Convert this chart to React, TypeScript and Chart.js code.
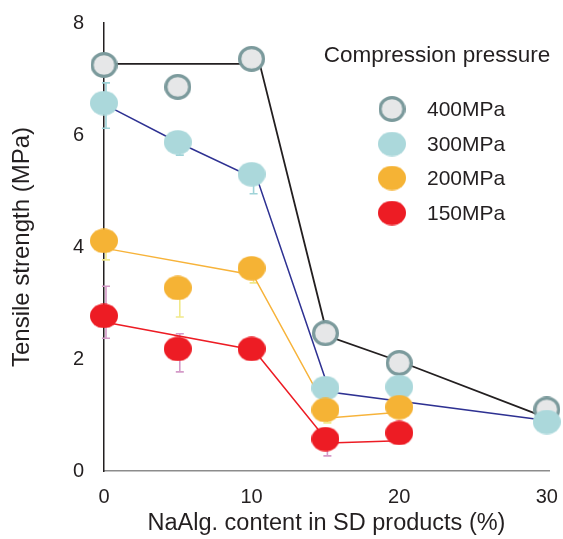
import React, { useEffect, useRef } from "react";
import { Chart, registerables } from "chart.js";

Chart.register(...registerables);

// ---------- data ----------
const xCategories = [0, 5, 10, 15, 20, 30];
const xTickValues = [0, 10, 20, 30];
const yTickValues = [0, 2, 4, 6, 8];
const seriesNames = ["400MPa", "300MPa", "200MPa", "150MPa"];

// measured points (null = not measured)
const p400 = [7.25, 6.86, 7.36, 2.46, 1.93, 1.1];
const p300 = [6.57, 5.87, 5.3, 1.48, 1.5, 0.875];
const p200 = [4.11, 3.27, 3.62, 1.09, 1.14, null];
const p150 = [2.77, 2.18, 2.18, 0.57, 0.68, null];

// trend lines
const line400X = [0, 10.55, 15.15, 20, 30];
const line400Y = [7.27, 7.27, 2.41, 1.96, 0.95];
const line300X = [0, 5, 10.4, 15.3, 30];
const line300Y = [6.55, 5.87, 5.2, 1.41, 0.9];
const line200X = [0, 10.1, 15.4, 20];
const line200Y = [3.98, 3.5, 0.95, 1.05];
const line150X = [0, 10.15, 15.25, 20];
const line150Y = [2.66, 2.16, 0.5, 0.54];

// error bar ends (null = not shown)
const err300Lo = [6.12, 5.64, 4.95, null, null, null];
const err300Hi = [6.93, null, null, null, null, null];
const err200Lo = [3.77, 2.75, 3.36, 0.86, null, null];
const err150Lo = [2.37, 1.77, null, 0.27, null, null];
const err150Hi = [3.3, 2.45, null, null, null, null];

const FONT = "'Liberation Sans', Arial, Helvetica, sans-serif";
const TEXT = "#231f20";

function ellipse(rx: number, ry: number, fill: string, stroke?: string, lw = 0) {
  const c = document.createElement("canvas");
  c.width = Math.ceil(rx * 2);
  c.height = Math.ceil(ry * 2);
  const ctx = c.getContext("2d")!;
  ctx.beginPath();
  ctx.ellipse(c.width / 2, c.height / 2, rx - lw / 2, ry - lw / 2, 0, 0, Math.PI * 2);
  ctx.fillStyle = fill;
  ctx.fill();
  if (stroke && lw > 0) {
    ctx.lineWidth = lw;
    ctx.strokeStyle = stroke;
    ctx.stroke();
  }
  return c;
}

function pts(xs: number[], ys: (number | null)[]) {
  const out: { x: number; y: number }[] = [];
  xs.forEach((x, i) => {
    const y = ys[i];
    if (y !== null && y !== undefined) out.push({ x, y });
  });
  return out;
}

export default function App() {
  const ref = useRef<HTMLCanvasElement>(null);

  useEffect(() => {
    const canvas = ref.current!;
    const img400 = ellipse(13.5, 13, "#e6e7e8", "#7b9a9c", 3.2);
    const img300 = ellipse(14, 12.2, "#abd8db");
    const img200 = ellipse(14, 12.2, "#f5b335");
    const img150 = ellipse(14, 12.2, "#ed1c24");
    const legendImgs = [img400, img300, img200, img150];

    const errorSpecs = [
      { vals: p300, lo: err300Lo, hi: err300Hi, color: "#9fd3d8" },
      { vals: p200, lo: err200Lo, hi: null, color: "#f1e98a" },
      { vals: p150, lo: err150Lo, hi: err150Hi, color: "#d49ac8" },
    ];

    const errorBarPlugin = {
      id: "errorBars",
      beforeDatasetsDraw(chart: any) {
        const { ctx, scales } = chart;
        const xs = scales.x;
        const ys = scales.y;
        ctx.save();
        ctx.lineWidth = 1.6;
        errorSpecs.forEach((spec) => {
          ctx.strokeStyle = spec.color;
          xCategories.forEach((xv, i) => {
            const v = spec.vals[i];
            if (v === null) return;
            const px = xs.getPixelForValue(xv) + 2;
            const py = ys.getPixelForValue(v);
            [spec.lo ? spec.lo[i] : null, spec.hi ? spec.hi[i] : null].forEach((end) => {
              if (end === null || end === undefined) return;
              const pe = ys.getPixelForValue(end);
              ctx.beginPath();
              ctx.moveTo(px, py);
              ctx.lineTo(px, pe);
              ctx.moveTo(px - 4, pe);
              ctx.lineTo(px + 4, pe);
              ctx.stroke();
            });
          });
        });
        ctx.restore();
      },
    };

    const legendPlugin = {
      id: "customLegend",
      afterDraw(chart: any) {
        const { ctx } = chart;
        ctx.save();
        ctx.fillStyle = TEXT;
        ctx.font = `22.5px ${FONT}`;
        ctx.textBaseline = "middle";
        ctx.textAlign = "center";
        ctx.fillText("Compression pressure", 437, 56);
        ctx.font = `21px ${FONT}`;
        ctx.textAlign = "left";
        const rows = [109, 144, 178, 213];
        seriesNames.forEach((name, i) => {
          const im = legendImgs[i];
          ctx.drawImage(im, 392 - im.width / 2, rows[i] - im.height / 2);
          ctx.fillText(name, 427, rows[i] + 1);
        });
        ctx.restore();
      },
    };

    const lineDs = (xs: number[], ys: number[], color: string, w: number) => ({
      data: pts(xs, ys),
      showLine: true,
      borderColor: color,
      borderWidth: w,
      pointRadius: 0,
      pointHoverRadius: 0,
      fill: false,
      tension: 0,
      clip: false as any,
      order: 10,
    });
    const markDs = (ys: (number | null)[], img: HTMLCanvasElement, order: number) => ({
      data: pts(xCategories, ys),
      showLine: false,
      pointStyle: img,
      pointRadius: 13,
      pointHoverRadius: 13,
      clip: false as any,
      order,
    });

    const chart = new Chart(canvas, {
      type: "scatter",
      data: {
        datasets: [
          lineDs(line400X, line400Y, "#231f20", 1.8),
          lineDs(line300X, line300Y, "#2e3192", 1.5),
          lineDs(line200X, line200Y, "#f7b33a", 1.5),
          lineDs(line150X, line150Y, "#ed1c24", 1.5),
          markDs(p400, img400, 4),
          markDs(p300, img300, 3),
          markDs(p200, img200, 2),
          markDs(p150, img150, 1),
        ] as any,
      },
      options: {
        responsive: false,
        animation: false,
        devicePixelRatio: 1,
        layout: { padding: { left: 0, right: 8, top: 23, bottom: 0 } },
        plugins: { legend: { display: false }, tooltip: { enabled: false } },
        events: [],
        scales: {
          x: {
            type: "linear",
            min: 0,
            max: 30.15,
            afterBuildTicks: (s: any) => {
              s.ticks = xTickValues.map((v) => ({ value: v }));
            },
            afterFit: (s: any) => {
              s.height = 68;
              s.paddingLeft = 0;
              s.paddingRight = 0;
            },
            grid: { display: false, drawTicks: false },
            border: { display: true, color: "#8c8c8c", width: 1.6 },
            ticks: {
              font: { size: 20, family: FONT },
              color: TEXT,
              padding: 14,
              maxRotation: 0,
              autoSkip: false,
            },
            title: {
              display: true,
              text: "NaAlg. content in SD products (%)",
              font: { size: 23.5, family: FONT },
              color: TEXT,
              padding: { top: 0, bottom: 1 },
            },
          },
          y: {
            type: "linear",
            min: 0,
            max: 8,
            afterBuildTicks: (s: any) => {
              s.ticks = yTickValues.map((v) => ({ value: v }));
            },
            afterFit: (s: any) => {
              s.width = 104;
              s.paddingTop = 0;
              s.paddingBottom = 0;
            },
            grid: { display: false, drawTicks: false },
            border: { display: true, color: "#231f20", width: 1.5 },
            ticks: {
              font: { size: 20, family: FONT },
              color: TEXT,
              padding: 20,
            },
            title: {
              display: true,
              text: "Tensile strength (MPa)",
              font: { size: 24, family: FONT },
              color: TEXT,
              padding: { top: 8, bottom: 0 },
            },
          },
        },
      },
      plugins: [errorBarPlugin, legendPlugin],
    } as any);

    return () => chart.destroy();
  }, []);

  return (
    <canvas
      ref={ref}
      width={563}
      height={539}
      style={{ position: "absolute", left: 0, top: 0, width: 563, height: 539, display: "block" }}
    />
  );
}
